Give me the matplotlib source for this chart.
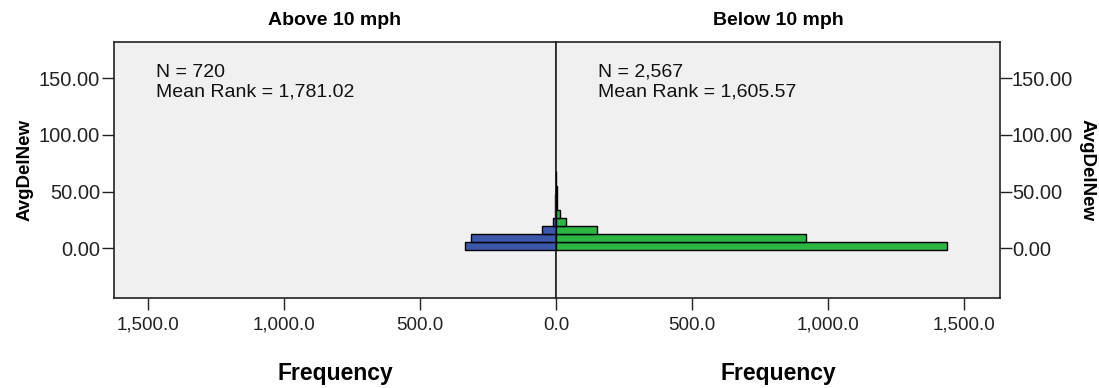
import matplotlib
matplotlib.use("Agg")
import matplotlib.pyplot as plt

plt.rcParams['font.family'] = ['Liberation Sans', 'DejaVu Sans']

# histogram bins of AvgDelNew (bin centres, width 7)
bin_centers = [2, 9, 16, 23, 30, 37, 44, 51, 58, 65]
bin_width = 7
above_counts = [334, 312, 52, 12, 3, 3, 2, 0, 1, 1]
below_counts = [1436, 919, 150, 36, 15, 5, 3, 2, 1, 0]

groups = ['Above 10 mph', 'Below 10 mph']
stats = ['N = 720\nMean Rank = 1,781.02', 'N = 2,567\nMean Rank = 1,605.57']
colors = ['#3c56aa', '#2db543']

y_ticks = [0, 50, 100, 150]
y_ticklabels = ['0.00', '50.00', '100.00', '150.00']
x_ticks_left = [0, 500, 1000, 1500]
x_labels_left = ['0.0', '500.0', '1,000.0', '1,500.0']
x_ticks_right = [500, 1000, 1500]
x_labels_right = ['500.0', '1,000.0', '1,500.0']

fig = plt.figure(figsize=(10.99, 3.88), dpi=100)
fig.patch.set_facecolor('white')

ax_l = fig.add_axes([114 / 1099, 1 - 298 / 388, 442 / 1099, 256 / 388])
ax_r = fig.add_axes([556 / 1099, 1 - 298 / 388, 444 / 1099, 256 / 388])

ax_l.barh(bin_centers, above_counts, height=bin_width, color=colors[0],
          edgecolor='black', linewidth=1.0, zorder=3)
ax_r.barh(bin_centers, below_counts, height=bin_width, color=colors[1],
          edgecolor='black', linewidth=1.0, zorder=3)

ax_l.set_xlim(1625, 0)
ax_r.set_xlim(0, 1632)

for ax in (ax_l, ax_r):
    ax.set_facecolor('#f0f0f0')
    ax.set_ylim(-44, 182)
    for s in ax.spines.values():
        s.set_color('#222222')
        s.set_linewidth(1.2)
    ax.tick_params(axis='x', direction='out', length=8.6, width=1.0,
                   pad=5, labelsize=13.5, colors='#222222')
    ax.set_xlabel('Frequency', fontsize=16.5, fontweight='bold', labelpad=20)

ax_l.set_xticks(x_ticks_left, x_labels_left)
ax_r.set_xticks(x_ticks_right, x_labels_right)

ax_l.set_yticks(y_ticks, y_ticklabels)
ax_l.tick_params(axis='y', direction='out', length=8.6, width=1.0, pad=1.5,
                 labelsize=14.5, colors='#222222')
ax_l.set_ylabel('AvgDelNew', fontsize=13.5, fontweight='bold', labelpad=4)

ax_r.yaxis.tick_right()
ax_r.yaxis.set_label_position('right')
ax_r.set_yticks(y_ticks, y_ticklabels)
ax_r.tick_params(axis='y', direction='out', length=8.6, width=1.0, pad=0,
                 labelsize=14.5, colors='#222222')
ax_r.set_ylabel('AvgDelNew', fontsize=13.5, fontweight='bold', rotation=270,
                labelpad=16)

for ax, title, txt in zip((ax_l, ax_r), groups, stats):
    ax.set_title(title, fontsize=14, fontweight='bold', pad=12)
    ax.text(0.095, 0.915, txt, transform=ax.transAxes, ha='left', va='top',
            fontsize=14, color='#111111')

fig.savefig('out.png', dpi=100, facecolor='white')
